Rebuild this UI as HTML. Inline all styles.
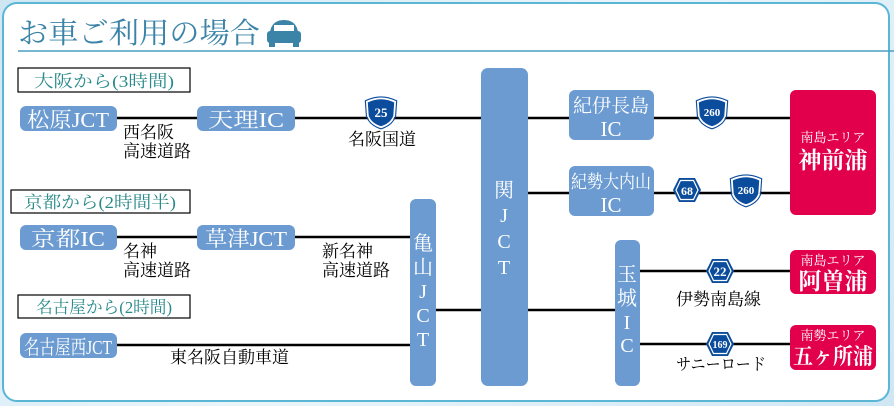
<!DOCTYPE html>
<html><head><meta charset="utf-8"><style>
html,body{margin:0;padding:0;width:894px;height:406px;overflow:hidden;background:linear-gradient(135deg,#cfe7f3,#eaf5fb 50%,#cfe7f3);}
svg{display:block}
text{font-family:"Liberation Serif","Noto Serif CJK SC","Noto Sans CJK JP",serif;}
.s{font-family:"Liberation Sans","Noto Sans CJK JP",sans-serif;}
</style></head><body>
<svg width="894" height="406" viewBox="0 0 894 406" xmlns="http://www.w3.org/2000/svg">
<defs>
<g id="sh"><path d="M-14,-10 Q0,-17 14,-10 L13,4 Q10,12 0,15 Q-10,12 -13,4 Z" fill="#0b4c9c" stroke="#fff" stroke-width="1.5"/><path d="M-14,-10 Q0,-17 14,-10 L13,4 Q10,12 0,15 Q-10,12 -13,4 Z" fill="none" stroke="#0b4c9c" stroke-width="1" transform="scale(1.12)"/></g>
<g id="hx"><polygon points="-14,0 -8,-12 8,-12 14,0 8,12 -8,12" fill="#0b4c9c"/><polygon points="-11,0 -6.5,-9.5 6.5,-9.5 11,0 6.5,9.5 -6.5,9.5" fill="none" stroke="#fff" stroke-width="1.2"/></g>
</defs>
<rect x="3" y="3" width="886" height="398" rx="14" fill="#fff" stroke="#5bb6d6" stroke-width="2"/>
<text x="18" y="43" font-size="29" fill="#3b84a8" textLength="242" lengthAdjust="spacingAndGlyphs">お車ご利用の場合</text>
<g fill="#3b84a8"><path d="M270,32 Q272,20 284,20 Q296,20 298,32 Z"/><rect x="267" y="31" width="34" height="12" rx="3"/><rect x="269" y="42" width="6" height="5"/><rect x="293" y="42" width="6" height="5"/><rect x="274" y="25" width="20" height="6" fill="#fff"/></g>
<line x1="18" y1="51" x2="894" y2="51" stroke="#4a9ec2" stroke-width="1.5"/>

<g stroke="#000" stroke-width="2.5">
<line x1="117" y1="118" x2="481" y2="118"/>
<line x1="528" y1="118" x2="790" y2="118"/>
<line x1="528" y1="193" x2="790" y2="193"/>
<line x1="117" y1="237" x2="410" y2="237"/>
<line x1="117" y1="345" x2="410" y2="345"/>
<line x1="436" y1="310" x2="481" y2="310"/>
<line x1="528" y1="310" x2="615" y2="310"/>
<line x1="640" y1="271" x2="790" y2="271"/>
<line x1="640" y1="344" x2="790" y2="344"/>
</g>

<g fill="none" stroke="#000" stroke-width="1.2">
<rect x="18" y="68" width="172" height="24"/>
<rect x="11" y="190" width="179" height="23"/>
<rect x="18" y="295" width="172" height="23"/>
</g>
<g fill="#2a8a8a" font-size="17" class="s" text-anchor="middle">
<text x="104" y="87" textLength="140" lengthAdjust="spacingAndGlyphs">大阪から(3時間)</text>
<text x="100" y="208" textLength="152" lengthAdjust="spacingAndGlyphs">京都から(2時間半)</text>
<text x="104" y="313" textLength="136" lengthAdjust="spacingAndGlyphs">名古屋から(2時間)</text>
</g>

<g fill="#6b9bd1">
<rect x="20" y="106" width="97" height="25" rx="6"/>
<rect x="197" y="106" width="98" height="25" rx="6"/>
<rect x="20" y="225" width="97" height="25" rx="6"/>
<rect x="197" y="225" width="98" height="25" rx="6"/>
<rect x="20" y="333" width="97" height="25" rx="6"/>
<rect x="481" y="68" width="47" height="318" rx="7"/>
<rect x="410" y="199" width="26" height="187" rx="6"/>
<rect x="615" y="240" width="25" height="146" rx="6"/>
<rect x="569" y="90" width="85" height="50" rx="6"/>
<rect x="569" y="166" width="85" height="50" rx="6"/>
</g>
<g fill="#fff" font-size="21" text-anchor="middle" class="s">
<text x="68" y="127" textLength="82" lengthAdjust="spacingAndGlyphs">松原JCT</text>
<text x="246" y="127" textLength="76" lengthAdjust="spacingAndGlyphs">天理IC</text>
<text x="68" y="246" textLength="74" lengthAdjust="spacingAndGlyphs">京都IC</text>
<text x="246" y="246" textLength="82" lengthAdjust="spacingAndGlyphs">草津JCT</text>
<text x="68" y="354" font-size="20" textLength="88" lengthAdjust="spacingAndGlyphs">名古屋西JCT</text>
<text x="611" y="112" font-size="19" textLength="76" lengthAdjust="spacingAndGlyphs">紀伊長島</text>
<text x="611" y="136">IC</text>
<text x="611" y="188" font-size="18" textLength="80" lengthAdjust="spacingAndGlyphs">紀勢大内山</text>
<text x="611" y="212">IC</text>
</g>
<g fill="#fff" font-size="20" text-anchor="middle" class="s">
<text x="504" y="197">関</text><text x="504" y="222">J</text><text x="504" y="248">C</text><text x="504" y="274">T</text>
<text x="423" y="250">亀</text><text x="423" y="274">山</text><text x="423" y="298">J</text><text x="423" y="322">C</text><text x="423" y="346">T</text>
<text x="627" y="281">玉</text><text x="627" y="305">城</text><text x="627" y="329">I</text><text x="627" y="352">C</text>
</g>

<g fill="#e2004c">
<rect x="790" y="90" width="86" height="125" rx="6"/>
<rect x="790" y="250" width="86" height="44" rx="6"/>
<rect x="790" y="325" width="86" height="45" rx="6"/>
</g>
<g fill="#fff" text-anchor="middle" class="s">
<text x="833" y="142" font-size="13">南島エリア</text>
<text x="833" y="168" font-size="23" font-weight="bold">神前浦</text>
<text x="833" y="265" font-size="13">南島エリア</text>
<text x="833" y="289" font-size="23" font-weight="bold">阿曽浦</text>
<text x="833" y="340" font-size="13">南勢エリア</text>
<text x="833" y="364" font-size="22" font-weight="bold" textLength="80" lengthAdjust="spacingAndGlyphs">五ヶ所浦</text>
</g>

<use href="#sh" x="381" y="112"/>
<use href="#sh" x="712" y="112"/>
<use href="#sh" x="746" y="190"/>
<use href="#hx" x="687" y="190"/>
<use href="#hx" x="720" y="271"/>
<use href="#hx" x="720" y="344"/>
<g fill="#fff" font-size="13" text-anchor="middle" class="s" font-weight="bold">
<text x="381" y="117">25</text>
<text x="712" y="116" font-size="11">260</text>
<text x="746" y="194" font-size="11">260</text>
<text x="687" y="195" font-size="12">68</text>
<text x="720" y="276">22</text>
<text x="720" y="348" font-size="10">169</text>
</g>

<g fill="#000" font-size="17" class="s">
<text x="123" y="138">西名阪</text><text x="123" y="157">高速道路</text>
<text x="348" y="145">名阪国道</text>
<text x="123" y="257">名神</text><text x="123" y="276">高速道路</text>
<text x="322" y="257">新名神</text><text x="322" y="276">高速道路</text>
<text x="170" y="363">東名阪自動車道</text>
<text x="676" y="305">伊勢南島線</text>
<text x="676" y="370" textLength="90" lengthAdjust="spacingAndGlyphs">サニーロード</text>
</g>
</svg>
</body></html>
